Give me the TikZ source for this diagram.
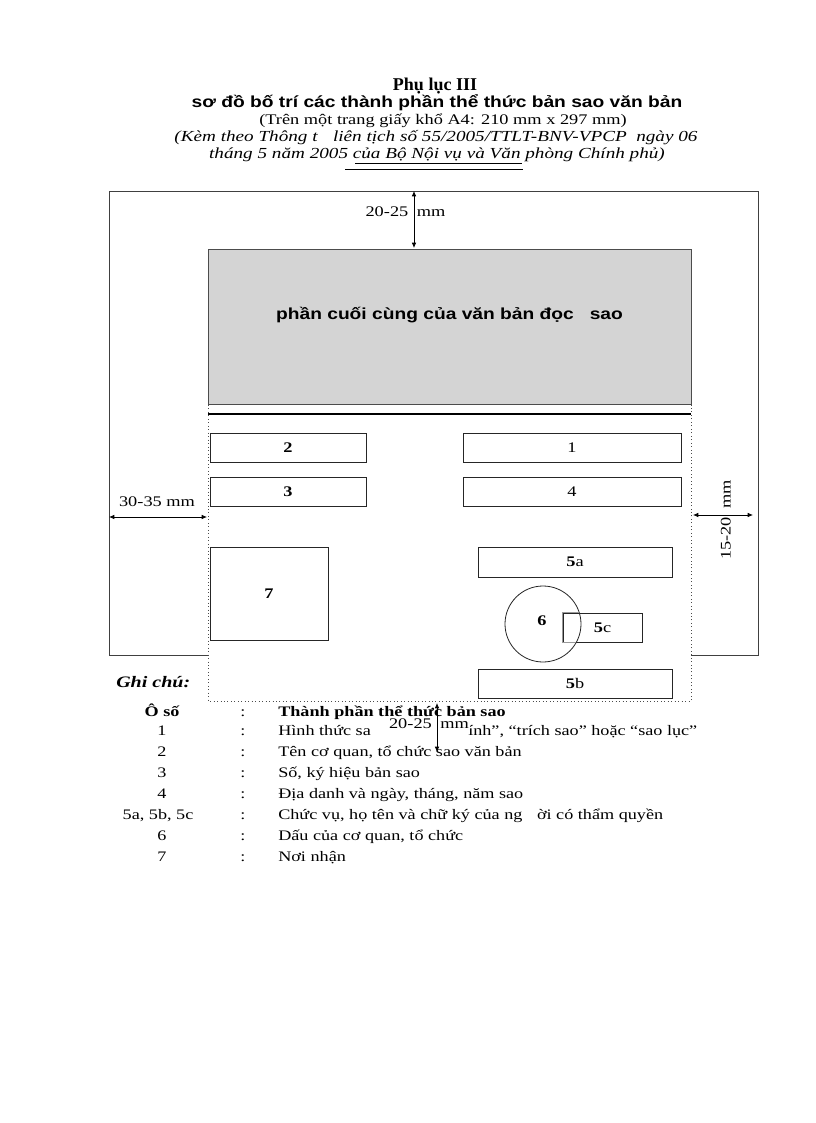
\documentclass[tikz,border=0pt]{standalone}
\usepackage{fontspec}
\setmainfont{Liberation Serif}[FakeStretch=1.25]
\newfontfamily\tmsn{Liberation Serif}
\newfontfamily\arl{Liberation Sans}[FakeStretch=1.2]
\usetikzlibrary{arrows.meta}
\tikzset{
  txt/.style={inner sep=0pt, font=\fontsize{11}{13}\selectfont},
  box/.style={draw=black!85, line width=0.6pt, fill=white, inner sep=0pt, font=\fontsize{11}{13}\selectfont},
  frame/.style={draw=black!75, line width=0.7pt},
  dotframe/.style={draw=black!70, dotted, line width=0.6pt},
  dim/.style={{Latex[length=4pt,width=3.5pt]}-{Latex[length=4pt,width=3.5pt]}, line width=0.6pt},
  leg/.style={inner sep=0pt, anchor=base, font=\fontsize{10.9}{12}\selectfont},
  legt/.style={leg, anchor=base west},
}
\begin{document}
\begin{tikzpicture}[x=0.75pt,y=-0.75pt]
\useasboundingbox (0,0) rectangle (816,1123);
\fill[white] (0,0) rectangle (816,1123);

% ---- title ----
\node[txt, font=\tmsn\fontsize{13.5}{15}\selectfont\bfseries] (t1) at (435,86) {Phụ lục III};
\node[txt, font=\arl\fontsize{12}{14}\selectfont\bfseries] (t2) at (437,103) {sơ đồ bố trí các thành phần thể thức bản sao văn bản};
\node[txt] (t3) at (443,121) {(Trên một trang giấy khổ A4: 210 mm x 297 mm)};
\node[txt, font=\fontsize{11.5}{13}\selectfont\itshape] (t4) at (436,138) {(Kèm theo Thông t\quad liên tịch số 55/2005/TTLT-BNV-VPCP\ \ ngày 06};
\node[txt, font=\fontsize{11.5}{13}\selectfont\itshape] (t5) at (437,155) {tháng 5 năm 2005 của Bộ Nội vụ và Văn phòng Chính phủ)};
\coordinate (u1) at (355,163); \coordinate (u2) at (522,163);
\draw[line width=0.4pt] (u1) -- (u2);
\coordinate (u3) at (345,169); \coordinate (u4) at (523,169);
\draw[line width=0.6pt] (u3) -- (u4);

% ---- page frame ----
\coordinate (p1) at (208,655); \coordinate (p2) at (109,655);
\coordinate (p3) at (109,191); \coordinate (p4) at (758,191);
\coordinate (p5) at (758,655); \coordinate (p6) at (691,655);
\draw[frame] (p1) -- (p2) -- (p3) -- (p4) -- (p5) -- (p6);

% ---- text area ----
\coordinate (a1) at (208,249); \coordinate (a2) at (691,701);
\draw[dotframe] (a1) rectangle (a2);

% ---- grey block ----
\node[draw=black!70, line width=0.6pt, fill=black!17, minimum width=362.25pt, minimum height=116.25pt, inner sep=0pt] (grey) at (449.5,326.5) {};
\node[txt, font=\arl\fontsize{12}{14}\selectfont\bfseries] (greytxt) at (449.5,315) {phần cuối cùng của văn bản đọc\quad sao};
\coordinate (h1) at (208,414); \coordinate (h2) at (691,414);
\draw[line width=1.6pt] (h1) -- (h2);

% ---- boxes ----
\node[box, minimum width=117pt, minimum height=21.75pt] (b2) at (288,447.5) {\textbf{2}};
\node[box, minimum width=163.5pt, minimum height=21.75pt] (b1) at (572,447.5) {1};
\node[box, minimum width=117pt, minimum height=21.75pt] (b3) at (288,491.5) {\textbf{3}};
\node[box, minimum width=163.5pt, minimum height=21.75pt] (b4) at (572,491.5) {4};
\node[box, minimum width=88.5pt, minimum height=69.75pt] (b7) at (269,593.5) {\textbf{7}};
\node[box, minimum width=145.5pt, minimum height=22.5pt] (b5a) at (575,562) {\textbf{5}a};
\node[box, minimum width=145.5pt, minimum height=21.75pt] (b5b) at (575,683.5) {\textbf{5}b};
\node[box, minimum width=59.25pt, minimum height=21.75pt] (b5c) at (602.5,627.5) {\textbf{5}c};
\node[draw=black!85, line width=0.6pt, circle, minimum size=57pt, inner sep=0pt] (c6) at (543,624) {};
\node[txt, font=\fontsize{11}{13}\selectfont\bfseries] (l6) at (542,621) {6};
\begin{scope}
  \clip (543,624) circle [radius=28.2pt];
  \draw[black!40, line width=0.7pt] (b5c.north west) rectangle (b5c.south east);
\end{scope}

% ---- dimensions ----
\coordinate (d1a) at (414,191); \coordinate (d1b) at (414,248);
\node[txt, fill=white] (d1t) at (405.5,213) {20-25\,\textcolor{white}{|}\,mm};
\draw[dim] (d1a) -- (d1b);

\coordinate (d2a) at (109,517); \coordinate (d2b) at (207,517);
\draw[dim] (d2a) -- (d2b);
\node[txt] (d2t) at (157,502) {30-35 mm};

\coordinate (d3a) at (693,515); \coordinate (d3b) at (753,515);
\node[txt, rotate=90, fill=white] (d3t) at (727,520) {15-20\,\textcolor{white}{|}\,mm};
\draw[dim] (d3a) -- (d3b);

% ---- legend ----
\node[inner sep=0pt, anchor=west, font=\fontsize{12}{14}\selectfont\bfseries\itshape] (gc) at (116,682) {Ghi chú:};
\node[leg, font=\fontsize{10.9}{12}\selectfont\bfseries] (h0) at (162,716) {Ô số};
\node[leg] (k0) at (243,716) {:};
\node[legt, font=\fontsize{10.9}{12}\selectfont\bfseries] (v0) at (278,716) {Thành phần thể thức bản sao};

\node[leg] (h1n) at (162,735) {1};
\node[leg] (k1) at (243,735) {:};
\node[legt] (v1a) at (278,735) {Hình thức sa};
\node[legt] (v1b) at (468,735) {ính”, “trích sao” hoặc “sao lục”};

\node[leg] (h2n) at (162,756) {2};
\node[leg] (k2) at (243,756) {:};
\node[legt] (v2) at (278,756) {Tên cơ quan, tổ chức sao văn bản};

\node[leg] (h3n) at (162,777) {3};
\node[leg] (k3) at (243,777) {:};
\node[legt] (v3) at (278,777) {Số, ký hiệu bản sao};

\node[leg] (h4n) at (162,798) {4};
\node[leg] (k4) at (243,798) {:};
\node[legt] (v4) at (278,798) {Địa danh và ngày, tháng, năm sao};

\node[leg] (h5n) at (158,819) {5a, 5b, 5c};
\node[leg] (k5) at (243,819) {:};
\node[legt] (v5) at (278,819) {Chức vụ, họ tên và chữ ký của ng\quad ời có thẩm quyền};

\node[leg] (h6n) at (162,840) {6};
\node[leg] (k6) at (243,840) {:};
\node[legt] (v6) at (278,840) {Dấu của cơ quan, tổ chức};

\node[leg] (h7n) at (162,861) {7};
\node[leg] (k7) at (243,861) {:};
\node[legt] (v7) at (278,861) {Nơi nhận};

% bottom margin dimension
\coordinate (d4a) at (437,703); \coordinate (d4b) at (437,752);
\node[txt, fill=white, inner sep=1pt] (d4t) at (429,725) {20-25\,\textcolor{white}{|}\,mm};
\draw[dim] (d4a) -- (d4b);
\end{tikzpicture}
\end{document}
